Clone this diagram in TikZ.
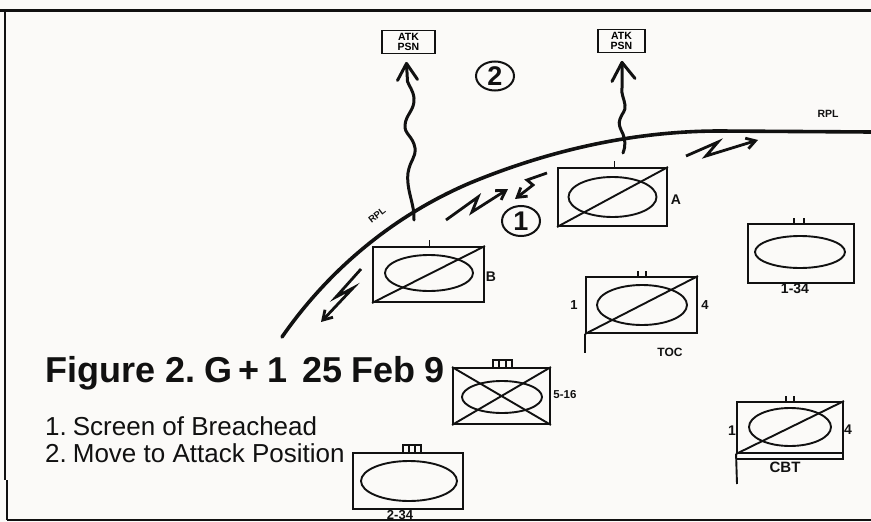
\documentclass[tikz,border=0pt]{standalone}
\usepackage{fontspec}
\setmainfont{Liberation Sans}
\usetikzlibrary{arrows.meta,calc,shapes.geometric}
\definecolor{ink}{HTML}{111111}
\definecolor{paper}{HTML}{FBFAF8}
\tikzset{
  unitbox/.style={draw=ink,line width=1.9pt,rectangle,inner sep=0pt},
  oval/.style={draw=ink,line width=1.9pt},
  slash/.style={draw=ink,line width=1.9pt},
  tickmark/.style={draw=ink,line width=1.2pt},
  heavy/.style={draw=ink,line width=3.6pt,line cap=round},
  wig/.style={draw=ink,line width=3pt,line cap=round,line join=round},
  bolt/.style={draw=ink,line width=2.8pt,line join=miter},
  boltend/.style={-{Straight Barb[length=9pt,width=11pt,line width=2.8pt]}},
  small/.style={inner sep=0pt,text=ink},
  circled/.style={draw=ink,line width=2pt,ellipse,inner sep=0pt,font=\bfseries\fontsize{27}{27}\selectfont,text=ink},
  atk/.style={unitbox,minimum height=23pt,align=center,font=\bfseries\fontsize{10.5}{10}\selectfont},
}
\begin{document}
\begin{tikzpicture}[x=1pt,y=-1pt]
\useasboundingbox (0,0) rectangle (871,522);
\fill[paper] (0,0) rectangle (871,522);
% frame
\draw[ink,line width=3pt] (0,10) -- (871,10);
\draw[ink,line width=2.4pt] (5,10) -- (5,480);
\draw[ink,line width=1.6pt] (7,480) -- (7,520);
\draw[ink,line width=2pt] (7,520) -- (871,520);
% RPL
\draw[heavy] (282,337) .. controls (330,268) and (395,215) .. (470,183)
   .. controls (545,152) and (630,131) .. (720,131) -- (871,132);
\node[small,font=\bfseries\fontsize{9.5}{9.5}\selectfont,rotate=38] (rplA) at (377,215) {RPL};
\node[small,font=\bfseries\fontsize{10.5}{10.5}\selectfont] (rplB) at (828,114) {RPL};
% ATK
\node[atk,minimum width=53pt] (atkA) at (408.5,42) {ATK\\PSN};
\node[atk,minimum width=47pt] (atkB) at (621.5,41) {ATK\\PSN};
\node[circled,minimum width=38pt,minimum height=29pt] (c2) at (495,76) {2};
\node[circled,minimum width=38pt,minimum height=30pt] (c1) at (521,221) {1};
% wiggly routes
\coordinate (wa0) at (414,220);
\coordinate (wa1) at ($(atkA.south)+(-1,27)$);
\coordinate (wa2) at ($(atkA.south)+(-2,9)$);
\draw[wig] (wa0) .. controls (415,205) and (406,190) .. (408,173)
  .. controls (410,160) and (416,158) .. (415,148)
  .. controls (413,136) and (404,134) .. (405,125)
  .. controls (406,114) and (415,110) .. (414,98)
  .. controls (413,90) and (409,86) .. (wa1);
\draw[wig] (wa1) -- (wa2) -- ++(-9,17);
\draw[wig] (wa2) -- ++(11,16);
\coordinate (wb0) at (623,153);
\coordinate (wb2) at ($(atkB.south)+(0.5,9)$);
\draw[wig] (wb0) .. controls (626,145) and (625,140) .. (623,134)
  .. controls (620,128) and (618,124) .. (620,119)
  .. controls (622,113) and (626,111) .. (625,105)
  .. controls (624,98) and (621,94) .. (622,88) -- (wb2);
\draw[wig] (wb2) -- ++(-10,19);
\draw[wig] (wb2) -- ++(13,16);
% bolts
\draw[bolt,boltend] (446,220) -- (478,197) -- (472,212) -- (508,189);
\draw[bolt,boltend] (547,173) -- (527,180) -- (533,185) -- (515,199);
\draw[bolt,boltend] (686,156) -- (718,142) -- (706,156) -- (758,140);
\draw[bolt,boltend] (361,269) -- (336,297) -- (353,288) -- (321,322);
% Company A
\node[unitbox,minimum width=109pt,minimum height=58pt] (A) at (612.5,197) {};
\draw[slash] (A.south west) -- (A.north east);
\draw[oval] (A.center) ellipse[x radius=44,y radius=20];
\draw[tickmark] (A.north) ++(2,0) -- ++(0,-6);
\node[small,font=\bfseries\fontsize{14}{14}\selectfont] (Alab) at (676,200) {A};
% Company B
\node[unitbox,minimum width=111pt,minimum height=55pt] (B) at (428.5,274.5) {};
\draw[slash] (B.south west) -- (B.north east);
\draw[oval] (429,273) ellipse[x radius=44,y radius=18];
\draw[tickmark] (B.north) ++(1,0) -- ++(0,-6);
\node[small,font=\bfseries\fontsize{14}{14}\selectfont] (Blab) at (491,277) {B};
% 1-34
\node[unitbox,minimum width=106pt,minimum height=59pt] (d) at (801,253.5) {};
\draw[oval] (800,252) ellipse[x radius=45,y radius=16];
\draw[tickmark] (794,224) -- (794,218) (804,224) -- (804,218);
\node[small,font=\bfseries\fontsize{14}{14}\selectfont] (dlab) at (795,289) {1-34};
% TOC
\node[unitbox,minimum width=111pt,minimum height=56pt] (T) at (641.5,305) {};
\draw[slash] (T.south west) -- (T.north east);
\draw[oval] (642,305) ellipse[x radius=45,y radius=20];
\draw[tickmark] (638,277) -- (638,271) (646,277) -- (646,271);
\draw[slash] (T.south west) -- ++(0,19);
\node[small,font=\bfseries\fontsize{13}{13}\selectfont] (T1) at (574,305) {1};
\node[small,font=\bfseries\fontsize{13}{13}\selectfont] (T4) at (705,305) {4};
\node[small,font=\bfseries\fontsize{12}{12}\selectfont] (Tlab) at (670,352) {TOC};
% CBT
\node[unitbox,minimum width=106pt,minimum height=51pt] (C) at (790,427.5) {};
\draw[slash] (C.south west) -- (C.north east);
\draw[oval] (790,427) ellipse[x radius=41,y radius=19];
\draw[tickmark] (786,402) -- (786,396) (794,402) -- (794,396);
\draw[slash] (737,459) -- (843,459) -- (843,453);
\draw[slash] (C.south west) -- (737,484);
\node[small,font=\bfseries\fontsize{14}{14}\selectfont] (C1) at (732,431) {1};
\node[small,font=\bfseries\fontsize{14}{14}\selectfont] (C4) at (848,430) {4};
\node[small,font=\bfseries\fontsize{15}{15}\selectfont] (Clab) at (785,467) {CBT};
% 5-16
\node[unitbox,minimum width=97pt,minimum height=56pt] (E) at (501.5,396) {};
\draw[slash] (E.south west) -- (E.north east) (E.north west) -- (E.south east);
\draw[oval] (502,397) ellipse[x radius=40,y radius=16];
\draw[tickmark,line width=1.5pt] (493,368) rectangle (512,360) (499,360) -- (499,368) (506,360) -- (506,368);
\node[small,font=\bfseries\fontsize{11.5}{11.5}\selectfont] (Elab) at (565,395) {5-16};
% 2-34
\node[unitbox,minimum width=110pt,minimum height=56pt] (F) at (408,481) {};
\draw[oval] (409,481) ellipse[x radius=48,y radius=20];
\draw[tickmark,line width=1.5pt] (403,453) rectangle (421,445) (409,445) -- (409,453) (415,445) -- (415,453);
\node[small,font=\bfseries\fontsize{13}{13}\selectfont] (Flab) at (400,515) {2-34};
% Title
\node[anchor=base west,inner sep=0pt,text=ink,font=\bfseries\fontsize{36}{36}\selectfont] (title) at (45,382) {Figure\hspace{10pt}2.\hspace{9pt}G\hspace{6pt}+\hspace{8pt}1\hspace{15pt}25\hspace{9pt}Feb\hspace{9pt}9};
\node[anchor=base west,inner sep=0pt,text=ink,font=\fontsize{26}{26}\selectfont] (l1) at (45,435) {1.\hspace{6pt}Screen of Breachead};
\node[anchor=base west,inner sep=0pt,text=ink,font=\fontsize{26}{26}\selectfont] (l2) at (45,462) {2.\hspace{6pt}Move to Attack Position};
\end{tikzpicture}
\end{document}
